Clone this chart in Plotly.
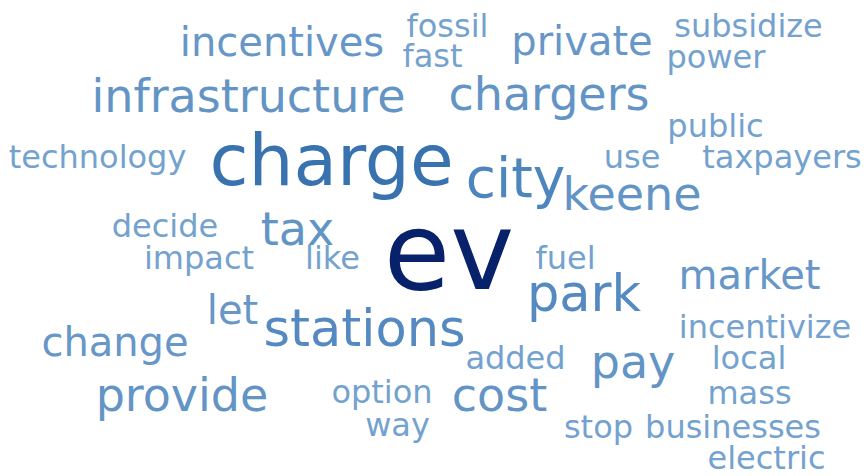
import plotly.graph_objects as go

# word counts
words = ['ev', 'charge', 'city', 'stations', 'park',
         'infrastructure', 'chargers', 'keene', 'provide', 'pay', 'cost', 'tax',
         'incentives', 'private', 'market', 'change', 'let',
         'fossil', 'fast', 'subsidize', 'power', 'public', 'technology', 'use',
         'taxpayers', 'decide', 'impact', 'like', 'fuel', 'incentivize', 'added',
         'local', 'option', 'mass', 'way', 'stop', 'businesses', 'electric']
counts = [20, 13, 10, 9, 9,
          8, 8, 8, 8, 8, 8, 8,
          7, 7, 7, 7, 7,
          6, 6, 6, 6, 6, 6, 6,
          6, 6, 6, 6, 6, 6, 6,
          6, 6, 6, 6, 6, 6, 6]

# where the cloud placed each word (centre x, baseline y, in pixels)
word_x = [449, 331.5, 515.5, 364.5, 584,
          248.5, 549, 632, 182, 633, 499.5, 297.5,
          282, 582, 749.5, 115, 232.5,
          447.5, 432.5, 748.5, 716, 715.5, 97.5, 632,
          782, 165, 199, 332.5, 565.5, 765, 515.5,
          749, 382, 749.5, 397.5, 598.5, 733, 766.5]
word_base = [289, 185, 197, 346, 311,
             112, 110, 210, 411, 378, 411, 245,
             56, 55, 289, 356, 324,
             37, 67, 37, 68, 137, 168, 168,
             168, 237, 269, 269, 269, 338, 369,
             369, 403, 404, 436, 438, 438, 469]

font_size = {20: 108, 13: 71, 10: 55, 9: 51, 8: 46, 7: 40, 6: 32}
font_color = {20: '#08216b', 13: '#3873b0', 10: '#4d85be', 9: '#5589c1',
              8: '#6394c6', 7: '#6797c8', 6: '#74a2cf'}

sizes = [font_size[c] for c in counts]
colors = [font_color[c] for c in counts]
# 'bottom center' puts the baseline 0.75 of the font size below the point
ys = [b - s * 0.75 for b, s in zip(word_base, sizes)]

fig = go.Figure()
fig.add_trace(go.Scatter(
    x=word_x, y=ys, text=words, mode='text',
    textposition='bottom center',
    textfont={'family': 'DejaVu Sans', 'size': sizes, 'color': colors},
    hoverinfo='skip', cliponaxis=False,
))

fig.update_xaxes(range=[0, 864], visible=False, fixedrange=True)
fig.update_yaxes(range=[476, 0], visible=False, fixedrange=True)
fig.update_layout(width=864, height=476, margin={'l': 0, 'r': 0, 't': 0, 'b': 0},
                  paper_bgcolor='white', plot_bgcolor='white', showlegend=False)

fig.write_html("out.html", config={'displayModeBar': False},
               post_script="document.body.style.margin = '0';")
